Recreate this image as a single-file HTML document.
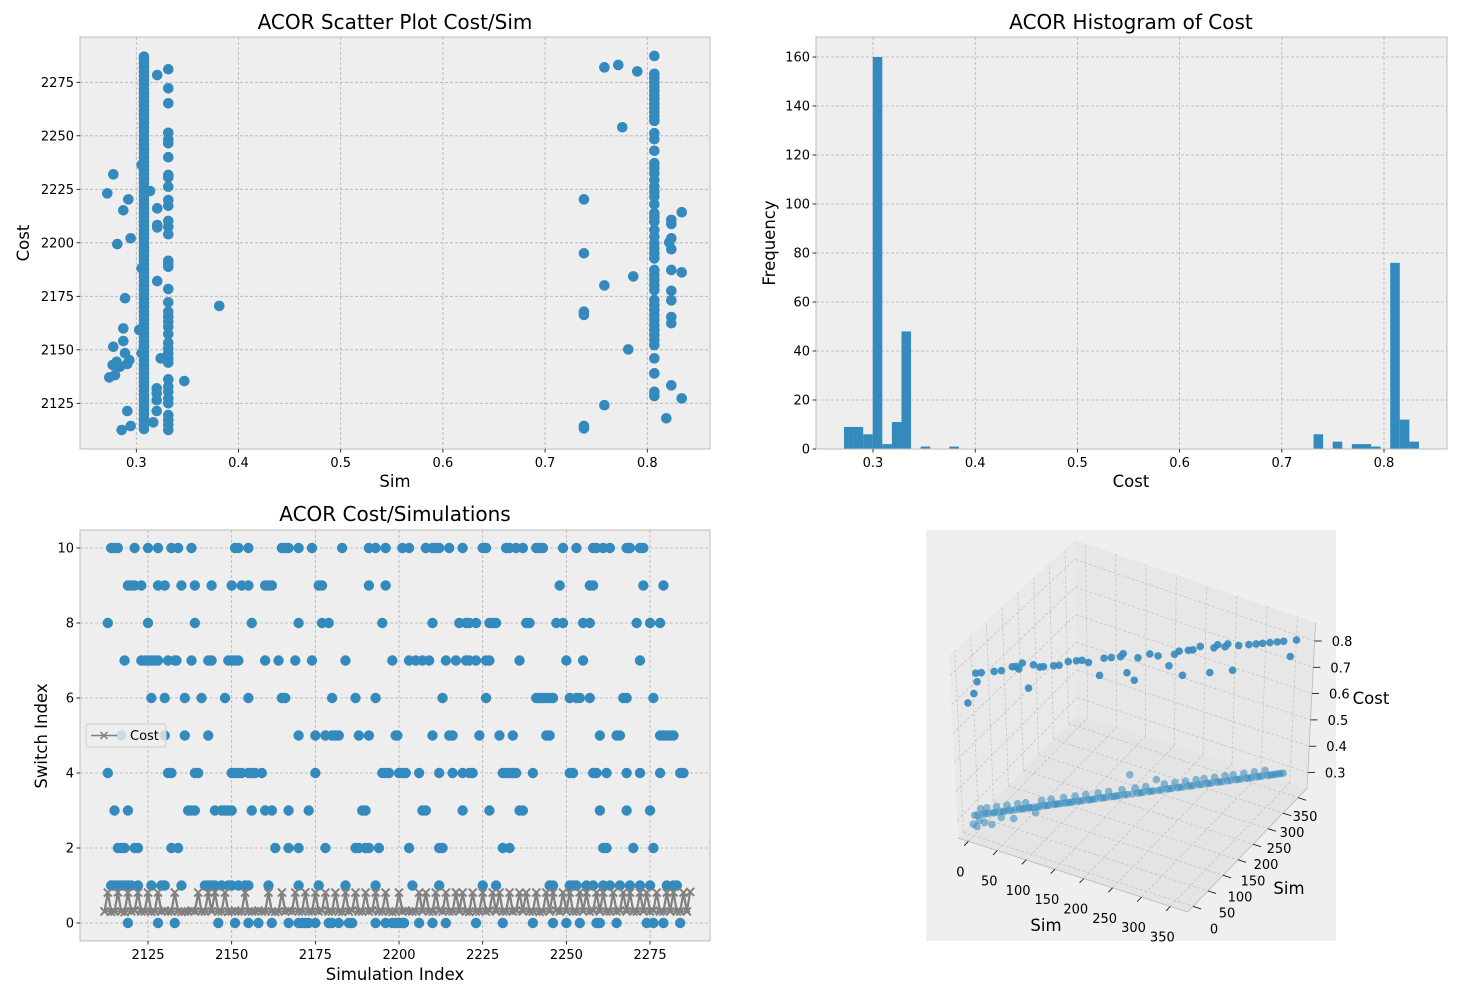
<!DOCTYPE html>
<html><head><meta charset="utf-8"><title>ACOR charts</title>
<style>
html,body{margin:0;padding:0;background:#fff;}
svg{display:block;font-family:"DejaVu Sans","Liberation Sans",sans-serif;}
</style></head>
<body>
<svg id="root" width="1469" height="997" viewBox="0 0 1469 997" xmlns="http://www.w3.org/2000/svg">
<g id="p1"></g>
<g id="p2"></g>
<g id="p3"></g>
<g id="p4"></g>
</svg>
<script>
// ---------- Panel 1 data ----------
const colA_sim = 0.3075;
const colA_cost = [2113,2115,2117,2118,2120,2122,2124,2126,2127,2129,2131,2133,2135,2137,2139,2141,2143,2145,2147,2149,2151,2152,2154,2156,2158,2160,2162,2164,2166,2168,2170,2172,2174,2176,2178,2180,2182,2184,2186,2188,2190,2192,2194,2196,2198,2200,2202,2204,2206,2208,2210,2212,2214,2216,2218,2220,2222,2224,2226,2228,2230,2232,2234,2236,2238,2240,2242,2244,2246,2248,2250,2252,2254,2256,2258,2260,2262,2264,2266,2268,2270,2272,2274,2276,2278,2280,2282,2284,2286,2287];
const colB_sim = 0.3313;
const colB_cost = [2281.1,2272.2,2265.2,2251.4,2248.3,2246.5,2240,2231.7,2230.6,2226.2,2220,2217.3,2210.2,2207.5,2204,2191.6,2190.1,2188.8,2178.4,2172.2,2167.8,2165.5,2163.1,2160.8,2157.4,2153.3,2150.7,2148.4,2146,2144,2136.2,2132.8,2130.4,2127.3,2125,2119.5,2117.2,2114.9,2112.5];
const colC_sim = 0.8069;
const colC_cost = [2287.3,2279,2277,2275,2273,2271,2269,2267,2265,2263,2261,2259,2257,2251.2,2248.4,2243,2237.2,2234.9,2232.5,2229.4,2226.3,2224,2221.6,2218,2213.8,2211.9,2209.9,2206,2202.9,2199.8,2197.4,2195.1,2192.7,2187.3,2184.9,2182.6,2180.3,2177.9,2173.3,2170.9,2168.6,2166.2,2163.9,2161.6,2159.2,2156.9,2154.5,2152.2,2146,2139,2130.4,2128.4];
const scatterSim = [0.3205,0.2775,0.2716,0.2922,0.2873,0.3205,0.3134,0.3205,0.3205,0.2945,0.2814,0.3053,0.3053,0.3205,0.289,0.3812,0.2873,0.3029,0.2873,0.2775,0.289,0.3053,0.3239,0.2932,0.2808,0.2769,0.284,0.2912,0.2736,0.2792,0.347,0.32,0.32,0.32,0.2912,0.32,0.3166,0.2945,0.2857,
 0.758,0.7716,0.7902,0.7755,0.738,0.738,0.7863,0.758,0.738,0.738,0.7814,0.758,0.738,0.738,0.8186,0.8337,0.8235,0.8235,0.8235,0.8215,0.8235,0.8235,0.8337,0.8235,0.8235,0.8235,0.8235,0.8235,0.8337];
const scatterCost = [2278.4,2232,2223.1,2220.3,2215.2,2216.1,2224.2,2208.3,2207.2,2202.1,2199.4,2236.4,2188.1,2182.1,2174.1,2170.5,2160,2159.3,2154.1,2151.4,2148.4,2148.4,2146,2145.2,2144.4,2142.9,2142.1,2143.4,2137.1,2138.2,2135.4,2132,2129.7,2126.5,2121.4,2121.4,2116.1,2114.4,2112.5,
 2282,2283.1,2280.1,2254,2220.3,2195.1,2184.3,2180.1,2167.8,2166.3,2150.2,2124.1,2114.4,2113.3,2118,2214.3,2210.7,2208.8,2202.1,2200.2,2197,2187.3,2186.2,2177.6,2173.1,2165.3,2162.4,2133.4,2127.3];
const p1XTicks = [0.3,0.4,0.5,0.6,0.7,0.8];
const p1XTickLabels = ["0.3","0.4","0.5","0.6","0.7","0.8"];
const p1YTicks = [2125,2150,2175,2200,2225,2250,2275];

// ---------- Panel 2 data ----------
const histStart = 0.2716;
const histBinWidth = 0.009377;
const histCounts = [9,9,6,160,2,11,48,0,1,0,0,1,0,0,0,0,0,0,0,0,0,0,0,0,0,0,0,0,0,0,0,0,0,0,0,0,0,0,0,0,0,0,0,0,0,0,0,0,0,6,0,3,0,2,2,1,0,76,12,3];
const p2XTicks = [0.3,0.4,0.5,0.6,0.7,0.8];
const p2YTicks = [0,20,40,60,80,100,120,140,160];

// ---------- Panel 3 data ----------
const sw0 = [2119,2128,2133,2146,2151,2155,2158,2162,2167,2170,2171,2172,2173,2175,2179,2180,2182,2185,2186,2193,2196,2198,2199,2200,2201,2201.5,2206,2210,2214,2223,2231,2240,2246,2250,2254,2259,2260,2265,2274,2276,2279,2284];
const sw1 = [2114,2115,2116,2117,2118,2119,2120,2122,2126,2129,2130,2135,2142,2143,2144,2145,2147,2149,2150,2152,2154,2155,2161,2170,2176,2184,2193,2204,2212,2225,2229,2245,2246,2251,2252,2253,2256,2258,2261,2263,2266,2269,2272,2275,2280,2282,2283];
const sw2 = [2116,2117,2118,2121,2122,2132,2134,2163,2167,2170,2178,2187,2188,2190,2191,2194,2203,2212,2213,2231,2233,2261,2262,2270,2276];
const sw3 = [2115,2119,2137,2138,2139,2145,2147,2148,2149,2150,2156,2160,2162,2167,2173,2189,2190,2207,2208,2219,2227,2236,2237,2260,2268,2275];
const sw4 = [2113,2131,2132,2139,2140,2150,2151,2152,2153,2155,2156,2157,2159,2175,2195,2196,2197,2200,2201,2202,2206,2212,2216,2219,2221,2222,2231,2232,2233,2234,2235,2240,2251,2252,2258,2259,2262,2268,2272,2278,2284,2285];
const sw5 = [2117,2130,2136,2143,2170,2175,2178,2180,2181,2182,2188,2191,2199,2199.5,2210,2215,2216,2224,2230,2234,2244,2245,2260,2265,2266,2278,2279,2280,2281,2282];
const sw6 = [2126,2130,2136,2141,2148,2155,2165,2166,2180,2187,2193,2213,2226,2241,2242,2243,2244,2245,2246,2251,2253,2254,2257,2267,2268,2276];
const sw7 = [2118,2123,2124,2125,2126,2127,2128,2131,2133,2133.5,2138,2143,2144,2149,2150,2151,2152,2160,2164,2169,2174,2184,2198,2203,2205,2207,2209,2214,2217,2220,2221,2223,2226,2227,2236,2250,2255,2272];
const sw8 = [2113,2125,2139,2156,2170,2177,2179,2195,2210,2218,2220,2221,2223,2227,2228,2229,2238,2239,2247,2249,2255,2257,2271,2275,2278];
const sw9 = [2119,2120,2121,2123,2128,2130,2135,2139,2144,2150,2153,2155,2160,2161,2162,2176,2177,2191,2196,2248,2257,2258,2273,2279];
const sw10 = [2114,2115,2116,2121,2125,2128,2132,2134,2138,2151,2152,2155,2165,2166,2167,2170,2174,2183,2191,2193,2196,2201,2203,2208,2210,2211,2212,2215,2219,2225,2226,2232,2233,2235,2237,2241,2242,2243,2249,2253,2258,2259,2261,2263,2268,2268.5,2269,2272,2273];
const switchLevels = [0,1,2,3,4,5,6,7,8,9,10];
const switchSims = [sw0,sw1,sw2,sw3,sw4,sw5,sw6,sw7,sw8,sw9,sw10];
const costStartIndex = 2112;
const costLine = [
.31,.81,.30,.31,.82,.31,.29,.81,.31,.33,.81,.31,.31,.81,.30,.31,
.81,.31,.33,.31,.31,.81,.31,.30,.31,.31,.33,.31,.81,.31,.31,.81,
.31,.82,.31,.31,.81,.30,.31,.33,.31,.31,.81,.31,.31,.31,.33,.31,
.31,.81,.31,.30,.31,.81,.31,.33,.31,.81,.31,.31,.82,.31,.31,.81,
.31,.33,.81,.31,.31,.81,.31,.30,.81,.31,.33,.81,.31,.31,.81,.31,
.33,.81,.31,.31,.81,.31,.30,.31,.81,.31,.33,.31,.31,.31,.81,.31,
.81,.31,.31,.81,.33,.31,.81,.31,.31,.82,.31,.81,.31,.30,.81,.31,
.31,.81,.31,.33,.81,.31,.81,.31,.31,.81,.31,.33,.81,.31,.81,.31,
.31,.81,.30,.31,.81,.31,.81,.33,.31,.81,.31,.81,.31,.31,.82,.31,
.81,.31,.33,.81,.31,.81,.31,.31,.81,.31,.33,.81,.31,.81,.31,.31,
.81,.31,.81,.31,.33,.81,.31,.31,.81,.31,.82,.31,.31,.81,.31,.83];
const p3XTicks = [2125,2150,2175,2200,2225,2250,2275];
const p3YTicks = [0,2,4,6,8,10];

// ---------- Panel 4 data ----------
const hi3dSim = [0,7,10,11,16,30,38,50,54,57,61,67,73,80,84,95,101,111,120,126,133,145,150,158,168,171,175,183,187,200,209,221,227,232,236,242,247,255,266,270,274,282,285,291,297,308,316,323,331,339,346,354,360];
const hi3dCost = [0.70,0.73,0.80,0.77,0.80,0.80,0.80,0.81,0.81,0.80,0.82,0.73,0.81,0.80,0.80,0.80,0.80,0.81,0.81,0.81,0.80,0.75,0.81,0.81,0.81,0.82,0.75,0.72,0.80,0.81,0.80,0.76,0.80,0.81,0.72,0.81,0.81,0.82,0.72,0.81,0.82,0.81,0.82,0.72,0.81,0.81,0.81,0.81,0.81,0.81,0.81,0.75,0.81];
const lo3dSim = [0,2,4,5,7,9,11,13,14,16,18,21,23,25,27,30,32,34,36,39,41,44,46,48,51,53,56,58,60,63,65,68,71,73,76,78,81,84,86,89,92,94,97,100,103,105,108,111,114,116,119,122,125,128,131,133,136,139,142,145,148,151,154,157,160,163,166,169,172,175,178,181,184,187,190,193,196,199,202,205,208,211,214,217,220,223,226,229,232,235,238,241,244,247,250,253,256,259,262,265,268,271,274,277,280,283,286,289,292,295,298,301,304,307,310,313,316,319,322,325,328,331,334,337,340,343,346,349,352];
const lo3dCost = [
0.28,0.31,0.27,0.31,0.29,0.33,0.31,0.28,0.31,0.33,
0.31,0.27,0.31,0.31,0.33,0.31,0.29,0.31,0.31,0.33,
0.31,0.31,0.28,0.31,0.33,0.31,0.31,0.31,0.33,0.31,
0.31,0.31,0.29,0.31,0.31,0.33,0.31,0.31,0.31,0.33,
0.31,0.31,0.31,0.31,0.33,0.31,0.31,0.31,0.31,0.33,
0.31,0.31,0.31,0.33,0.31,0.31,0.31,0.31,0.33,0.31,
0.31,0.31,0.33,0.31,0.31,0.31,0.31,0.33,0.31,0.31,
0.38,0.31,0.33,0.31,0.31,0.31,0.33,0.31,0.31,0.31,
0.35,0.31,0.31,0.33,0.31,0.31,0.31,0.33,0.31,0.31,
0.31,0.33,0.31,0.31,0.31,0.33,0.31,0.31,0.33,0.31,
0.31,0.31,0.33,0.31,0.31,0.31,0.33,0.31,0.31,0.33,
0.31,0.31,0.31,0.33,0.31,0.31,0.31,0.33,0.31,0.31,
0.31,0.33,0.31,0.31,0.31,0.31,0.31,0.31,0.31];
const p4SimTicks = [0,50,100,150,200,250,300,350];
const p4CostTicks = [0.3,0.4,0.5,0.6,0.7,0.8];

// ---------- helpers ----------
const NS = "http://www.w3.org/2000/svg";
const BLUE = "#348ABD";
const TITLE_SIZE = 20, LABEL_SIZE = 16.5;
function mk(parent, tag, attrs){
  const e = document.createElementNS(NS, tag);
  for (const k in attrs) e.setAttribute(k, attrs[k]);
  parent.appendChild(e);
  return e;
}
function txt(parent, x, y, s, size, anchor, extra){
  const t = mk(parent, "text", {x:x, y:y, "font-size":size, "text-anchor":anchor||"middle", fill:"#000"});
  if (extra) for (const k in extra) t.setAttribute(k, extra[k]);
  t.textContent = s;
  return t;
}
function axesFrame(g, L, T, R, B){
  const bg = mk(g, "rect", {x:L, y:T, width:R-L, height:B-T, fill:"#eeeeee"});
  
  
}
function spines(g, L, T, R, B){
  const s = mk(g, "rect", {x:L, y:T, width:R-L, height:B-T, fill:"none", stroke:"#bcbcbc", "stroke-width":1});
  
  
}
function vgrid(g, x, T, B){
  const l = mk(g, "line", {x1:x, x2:x, y1:T, y2:B, stroke:"#b2b2b2", "stroke-width":0.8, "stroke-dasharray":"3,2"});
  
  
}
function hgrid(g, y, L, R){
  const l = mk(g, "line", {x1:L, x2:R, y1:y, y2:y, stroke:"#b2b2b2", "stroke-width":0.8, "stroke-dasharray":"3,2"});
  
  
}
function xtick(g, x, B, label){
  const l = mk(g, "line", {x1:x, x2:x, y1:B, y2:B+3.5, stroke:"#000", "stroke-width":0.8});
  
  
  const t = txt(g, x, B+18, label, 13, "middle");
  
  
}
function ytick(g, y, L, label){
  const l = mk(g, "line", {x1:L-3.5, x2:L, y1:y, y2:y, stroke:"#000", "stroke-width":0.8});
  
  
  const t = txt(g, L-6, y+4.5, label, 13, "end");
  
  
}
function dot(g, x, y, r, op){
  const c = mk(g, "circle", {cx:x.toFixed(2), cy:y.toFixed(2), r:r, fill:BLUE, "fill-opacity":op});
  return c;
}

// ---------- Panel 1 ----------
(function(){
  const g = document.getElementById("p1");
  const L=80,T=37,R=710,B=449;
  const sx = v => 136.3 + (v-0.3)*1022;
  const sy = v => 403.3 - (v-2125)*2.14;
  axesFrame(g,L,T,R,B);
  p1XTicks.forEach(v=>vgrid(g,sx(v),T,B));
  p1YTicks.forEach(v=>hgrid(g,sy(v),L,R));
  const pts = mk(g,"g",{});
  
  
  const all = [];
  colA_cost.forEach(c=>all.push([colA_sim,c]));
  colB_cost.forEach(c=>all.push([colB_sim,c]));
  colC_cost.forEach(c=>all.push([colC_sim,c]));
  const n = Math.min(scatterSim.length, scatterCost.length);
  for (let i=0;i<n;i++) all.push([scatterSim[i],scatterCost[i]]);
  all.forEach(p=>{
    const c = dot(pts, sx(p[0]), sy(p[1]), 5.3, 1);
    
    
  });
  spines(g,L,T,R,B);
  p1XTicks.forEach((v,i)=>xtick(g,sx(v),B,p1XTickLabels[i]));
  p1YTicks.forEach(v=>ytick(g,sy(v),L,String(v)));
  const t = txt(g,395,29,"ACOR Scatter Plot Cost/Sim",TITLE_SIZE);
  
  
  const xl = txt(g,395,487,"Sim",LABEL_SIZE);
  
  
  const yl = txt(g,0,0,"Cost",LABEL_SIZE,"middle",{transform:"translate(29,243) rotate(-90)"});
  
  
})();

// ---------- Panel 2 ----------
(function(){
  const g = document.getElementById("p2");
  const L=816,T=37,R=1447,B=449;
  const hx = v => 873 + (v-0.3)*1022;
  const hy = v => 449 - v*2.45;
  axesFrame(g,L,T,R,B);
  p2XTicks.forEach(v=>vgrid(g,hx(v),T,B));
  p2YTicks.forEach(v=>hgrid(g,hy(v),L,R));
  const bars = mk(g,"g",{});
  
  
  histCounts.forEach((c,i)=>{
    if (c<=0) return;
    const x0 = hx(histStart + i*histBinWidth), x1 = hx(histStart + (i+1)*histBinWidth);
    const r = mk(bars,"rect",{x:x0.toFixed(2), y:hy(c).toFixed(2), width:(x1-x0).toFixed(2), height:(B-hy(c)).toFixed(2), fill:BLUE});
    
    
  });
  spines(g,L,T,R,B);
  p2XTicks.forEach(v=>xtick(g,hx(v),B,v.toFixed(1)));
  p2YTicks.forEach(v=>ytick(g,hy(v),L,String(v)));
  const t = txt(g,1131,29,"ACOR Histogram of Cost",TITLE_SIZE);
  
  
  const xl = txt(g,1131,487,"Cost",LABEL_SIZE);
  
  
  const yl = txt(g,0,0,"Frequency",LABEL_SIZE,"middle",{transform:"translate(775,243) rotate(-90)"});
  
  
})();

// ---------- Panel 3 ----------
(function(){
  const g = document.getElementById("p3");
  const L=80,T=530,R=710,B=941;
  const px = v => 148 + (v-2125)*3.347;
  const py = v => 923 - v*37.5;
  axesFrame(g,L,T,R,B);
  p3XTicks.forEach(v=>vgrid(g,px(v),T,B));
  p3YTicks.forEach(v=>hgrid(g,py(v),L,R));
  const dots = mk(g,"g",{});
  
  
  switchLevels.forEach((lvl,k)=>{
    switchSims[k].forEach(s=>{
      const c = dot(dots, px(s), py(lvl), 5.2, 1);
      
      
    });
  });
  const lg = mk(g,"g",{});
  
  
  let d = "";
  costLine.forEach((c,i)=>{ d += (i?"L":"M") + px(costStartIndex+i).toFixed(2) + "," + py(c).toFixed(2); });
  const pl = mk(lg,"path",{d:d, fill:"none", stroke:"#808080", "stroke-width":2.2});
  
  
  let md = "";
  costLine.forEach((c,i)=>{
    const x = px(costStartIndex+i), y = py(c), s=4;
    md += `M${(x-s).toFixed(1)},${(y-s).toFixed(1)}L${(x+s).toFixed(1)},${(y+s).toFixed(1)}M${(x-s).toFixed(1)},${(y+s).toFixed(1)}L${(x+s).toFixed(1)},${(y-s).toFixed(1)}`;
  });
  const mp = mk(lg,"path",{d:md, fill:"none", stroke:"#808080", "stroke-width":2});
  
  
  const band = mk(lg,"rect",{x:px(costStartIndex).toFixed(1), y:py(0.33).toFixed(1), width:(px(costStartIndex+costLine.length-1)-px(costStartIndex)).toFixed(1), height:(py(0.28)-py(0.33)).toFixed(1), fill:"#808080"});
  
  
  spines(g,L,T,R,B);
  p3XTicks.forEach(v=>xtick(g,px(v),B,String(v)));
  p3YTicks.forEach(v=>ytick(g,py(v),L,String(v)));
  const leg = mk(g,"g",{});
  
  
  const lb = mk(leg,"rect",{x:86,y:724,width:80,height:23,rx:3,fill:"#eeeeee","fill-opacity":0.8,stroke:"#cccccc","stroke-width":1});
  
  
  const ll = mk(leg,"path",{d:"M91,735.5L117,735.5M100.5,732L107.5,739M100.5,739L107.5,732",stroke:"#808080","stroke-width":1.5,fill:"none"});
  
  
  const lt = txt(leg,130,740,"Cost",13,"start");
  
  
  const t = txt(g,395,521,"ACOR Cost/Simulations",TITLE_SIZE);
  
  
  const xl = txt(g,395,980,"Simulation Index",LABEL_SIZE);
  
  
  const yl = txt(g,0,0,"Switch Index",LABEL_SIZE,"middle",{transform:"translate(47,736) rotate(-90)"});
  
  
})();

// ---------- Panel 4 (3D) ----------
(function(){
  const g = document.getElementById("p4");
  const IMIN=-18, IMAX=380, JMIN=-18, JMAX=380, ZMIN=0.24, ZMAX=0.87;
  function proj(i,j,z){
    const di=i-IMIN, dj=j-JMIN;
    const bx = 958 + di*0.577 + dj*0.3;
    const by = 838 + di*0.186 - dj*0.311;
    const zs = 290 - 0.068*(di+dj)/2;
    const t = (z-ZMIN)/(ZMAX-ZMIN);
    return [bx + (bx-1135)*0.05*t, by - (z-ZMIN)*zs];
  }
  const bg = mk(g,"rect",{x:926,y:530,width:410,height:411,fill:"#efefef"});
  
  
  function poly(pts, fill, name){
    const p = mk(g,"polygon",{points:pts.map(q=>q[0].toFixed(1)+","+q[1].toFixed(1)).join(" "), fill:fill});
    
    
  }
  poly([proj(IMIN,JMIN,ZMIN),proj(IMIN,JMAX,ZMIN),proj(IMIN,JMAX,ZMAX),proj(IMIN,JMIN,ZMAX)],"#e9e9e9","left-pane");
  poly([proj(IMIN,JMAX,ZMIN),proj(IMAX,JMAX,ZMIN),proj(IMAX,JMAX,ZMAX),proj(IMIN,JMAX,ZMAX)],"#e7e7e7","back-pane");
  poly([proj(IMIN,JMIN,ZMIN),proj(IMAX,JMIN,ZMIN),proj(IMAX,JMAX,ZMIN),proj(IMIN,JMAX,ZMIN)],"#e4e4e4","floor-pane");
  function seg(a,b,name,stroke,dash){
    const l = mk(g,"line",{x1:a[0].toFixed(1),y1:a[1].toFixed(1),x2:b[0].toFixed(1),y2:b[1].toFixed(1),stroke:stroke,"stroke-width":0.8});
    if (dash) l.setAttribute("stroke-dasharray",dash);
    
    
  }
  const GC="#c4c4c4", GD="3,2";
  p4SimTicks.forEach(v=>{
    seg(proj(v,JMIN,ZMIN),proj(v,JMAX,ZMIN),"grid-line",GC,GD);
    seg(proj(v,JMAX,ZMIN),proj(v,JMAX,ZMAX),"grid-line",GC,GD);
    seg(proj(IMIN,v,ZMIN),proj(IMAX,v,ZMIN),"grid-line",GC,GD);
    seg(proj(IMIN,v,ZMIN),proj(IMIN,v,ZMAX),"grid-line",GC,GD);
  });
  p4CostTicks.forEach(z=>{
    seg(proj(IMIN,JMIN,z),proj(IMIN,JMAX,z),"grid-line",GC,GD);
    seg(proj(IMIN,JMAX,z),proj(IMAX,JMAX,z),"grid-line",GC,GD);
  });
  seg(proj(IMIN,JMIN,ZMIN),proj(IMAX,JMIN,ZMIN),"x-axis-line","#b8b8b8");
  seg(proj(IMAX,JMIN,ZMIN),proj(IMAX,JMAX,ZMIN),"y-axis-line","#b8b8b8");
  seg(proj(IMAX,JMAX,ZMIN),proj(IMAX,JMAX,ZMAX),"z-axis-line","#b8b8b8");
  const pts = mk(g,"g",{});
  
  
  const nl = Math.min(lo3dSim.length, lo3dCost.length);
  for (let k=0;k<nl;k++){
    const p = proj(lo3dSim[k], lo3dSim[k], lo3dCost[k]);
    const c = dot(pts,p[0],p[1],3.8,0.55);
    
    
  }
  const nh = Math.min(hi3dSim.length, hi3dCost.length);
  for (let k=0;k<nh;k++){
    const p = proj(hi3dSim[k], hi3dSim[k], hi3dCost[k]);
    const c = dot(pts,p[0],p[1],3.8,0.9);
    
    
  }
  p4SimTicks.forEach(v=>{
    const a = proj(v,JMIN,ZMIN), b = proj(v,JMIN-14,ZMIN);
    seg(a,b,"x-tick","#000");
    const t = txt(g,a[0]-8,a[1]+35,String(v),13,"middle");
    
    
  });
  p4SimTicks.forEach(v=>{
    const a = proj(IMAX,v,ZMIN), b = proj(IMAX+14,v,ZMIN);
    seg(a,b,"y-tick","#000");
    const t = txt(g,a[0]+21-v*0.04,a[1]+27-v*0.01,String(v),13,"middle");
    
    
  });
  p4CostTicks.forEach(z=>{
    const a = proj(IMAX,JMAX,z);
    seg(a,[a[0]+7,a[1]],"z-tick","#000");
    const t = txt(g,a[0]+17,a[1]+5,z.toFixed(1),13,"start");
    
    
  });
  const xl = txt(g,1046,931,"Sim",LABEL_SIZE);
  
  
  const yl = txt(g,1289,894,"Sim",LABEL_SIZE);
  
  
  const zl = txt(g,1371,704,"Cost",LABEL_SIZE);
  
  
})();
</script>
</body></html>
